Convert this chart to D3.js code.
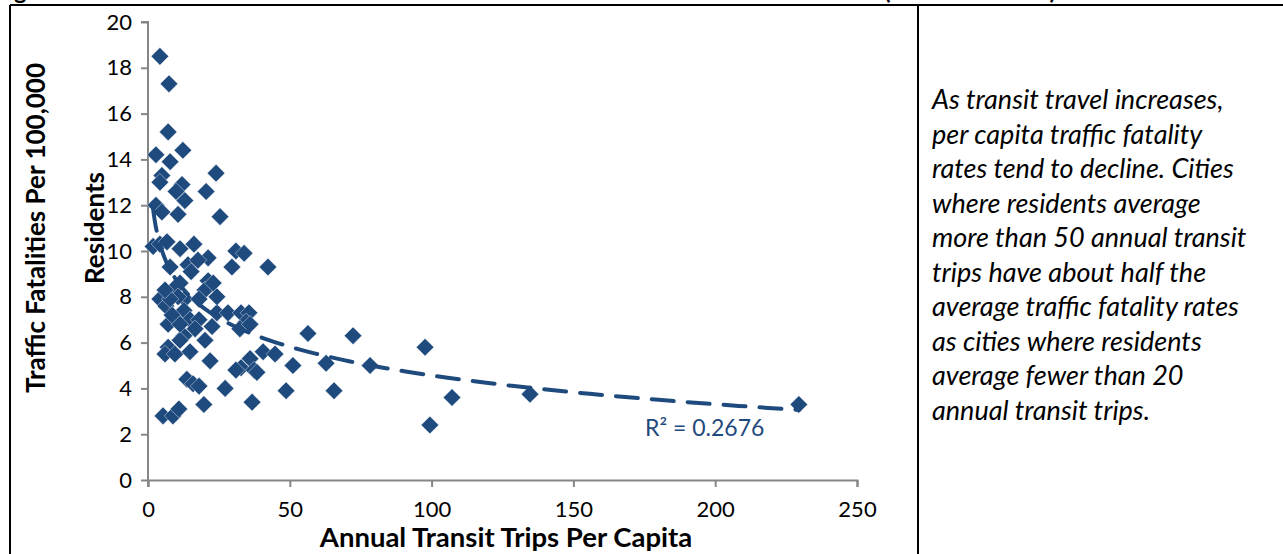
<!DOCTYPE html>
<html>
<head>
<meta charset="utf-8">
<script src="https://cdn.jsdelivr.net/npm/d3@7"></script>
<style>
  body { margin: 0; background: #fff; }
  svg { font-family: Lato, "Open Sans", sans-serif; }
</style>
</head>
<body>
<div id="chart"></div>
<script>
// Annual transit trips per capita (x) and traffic fatalities per 100,000 residents (y)
const trips = [4.2, 7.4, 7.1, 2.8, 12.3, 7.8, 4.9, 4.2, 24.0, 12.0, 9.9, 20.5, 2.8, 4.9, 13.0, 10.6, 25.4,
  1.8, 4.2, 6.7, 11.3, 16.2, 31.0, 33.9, 21.2, 7.8, 14.1, 17.6, 29.6, 42.3, 11.3, 21.2, 15.2, 9.5, 20.1,
  4.2, 6.3, 13.0, 18.0, 10.6, 12.7, 24.3, 28.2, 32.8, 35.6, 7.1, 8.5, 14.8, 22.6, 34.6, 32.4, 36.0,
  12.7, 11.3, 20.1, 56.4, 72.3, 7.1, 6.0, 9.5, 14.8, 21.9, 36.0, 40.6, 44.8, 32.8, 31.0, 37.4, 38.4,
  51.1, 62.8, 78.3, 97.7, 13.7, 15.9, 18.0, 27.2, 48.7, 65.6, 107.2, 134.7, 36.7, 19.7, 229.5,
  5.3, 8.8, 10.9, 99.4, 7.8, 6.0, 18.0, 16.6, 11.3, 23.0, 24.3];
const fatalities = [18.5, 17.3, 15.2, 14.2, 14.4, 13.9, 13.3, 13.0, 13.4, 12.9, 12.6, 12.6, 12.0, 11.7, 12.2, 11.6, 11.5,
  10.2, 10.3, 10.4, 10.1, 10.3, 10.0, 9.9, 9.7, 9.3, 9.4, 9.6, 9.3, 9.3, 8.6, 8.7, 9.1, 8.4, 8.3,
  7.9, 7.6, 7.9, 7.9, 8.0, 7.4, 7.3, 7.3, 7.3, 7.3, 6.8, 7.2, 7.0, 6.7, 6.9, 6.6, 6.8,
  6.3, 6.1, 6.1, 6.4, 6.3, 5.8, 5.5, 5.5, 5.6, 5.2, 5.3, 5.6, 5.5, 4.9, 4.8, 4.8, 4.7,
  5.0, 5.1, 5.0, 5.8, 4.4, 4.2, 4.1, 4.0, 3.9, 3.9, 3.6, 3.75, 3.4, 3.3, 3.3,
  2.8, 2.8, 3.1, 2.4, 7.9, 8.3, 7.0, 6.6, 6.8, 8.6, 8.0];

// Logarithmic trendline: y = intercept + slope * ln(x)
const trendIntercept = 12.9;
const trendSlope = -1.81;
const r2Label = 'R² = 0.2676';

const xTicks = [0, 50, 100, 150, 200, 250];
const yTicks = [0, 2, 4, 6, 8, 10, 12, 14, 16, 18, 20];

const noteLines = [
  'As transit travel increases,',
  'per capita traffic fatality',
  'rates tend to decline. Cities',
  'where residents average',
  'more than 50 annual transit',
  'trips have about half the',
  'average traffic fatality rates',
  'as cities where residents',
  'average fewer than 20',
  'annual transit trips.'
];

const W = 1283, H = 554;
const color = '#1f4a7e';
const axisColor = '#868686';

const svg = d3.select('#chart').append('svg')
    .attr('width', W)
    .attr('height', H);

// plot area in page pixels
const plot = { left: 148, right: 857, top: 22, bottom: 480 };

const x = d3.scaleLinear().domain([0, 250]).range([plot.left, plot.right]);
const y = d3.scaleLinear().domain([0, 20]).range([plot.bottom, plot.top]);

// frame lines of the surrounding table
svg.append('line').attr('x1', 10).attr('x2', W).attr('y1', 5).attr('y2', 5)
    .attr('stroke', '#000').attr('stroke-width', 2);
svg.append('line').attr('x1', 10).attr('x2', 10).attr('y1', 5).attr('y2', H)
    .attr('stroke', '#000').attr('stroke-width', 2);
svg.append('line').attr('x1', 918).attr('x2', 918).attr('y1', 5).attr('y2', H)
    .attr('stroke', '#000').attr('stroke-width', 2);

// figure title, mostly above the top edge of the picture (only descenders show)
svg.append('text')
    .attr('x', 14).attr('y', -1)
    .style('font-size', '24px').style('font-weight', 'bold')
    .text('gure 3: Traffic Fatalities Versus Transit Travel');
svg.append('text')
    .attr('x', 884).attr('y', -1)
    .attr('textLength', 172)
    .style('font-size', '24px').style('font-weight', 'bold')
    .text('(U.S. Cities)');

// axes
const xAxis = svg.append('g')
    .attr('transform', 'translate(0,' + plot.bottom + ')')
    .call(d3.axisBottom(x).tickValues(xTicks).tickSize(7).tickPadding(14));
const yAxis = svg.append('g')
    .attr('transform', 'translate(' + plot.left + ',0)')
    .call(d3.axisLeft(y).tickValues(yTicks).tickSize(7).tickPadding(9));

[xAxis, yAxis].forEach(g => {
    g.select('.domain').attr('stroke', axisColor).attr('stroke-width', 2);
    g.selectAll('.tick line').attr('stroke', axisColor).attr('stroke-width', 2);
    g.selectAll('.tick text').attr('fill', '#000').style('font-size', '22px')
        .style('font-family', 'Lato, "Open Sans", sans-serif');
});
yAxis.select('.domain').attr('d', 'M-7,' + plot.top + 'H0V' + (plot.bottom + 7));

// trendline
const xMin = d3.min(trips), xMax = d3.max(trips);
const trendX = d3.range(0, 101).map(i => xMin * Math.pow(xMax / xMin, i / 100));
const trendLine = d3.line()
    .x(d => x(d))
    .y(d => y(trendIntercept + trendSlope * Math.log(d)));

// points
const points = trips.map((t, i) => ({ t: t, f: fatalities[i] }));
svg.append('g').selectAll('path')
    .data(points)
    .join('path')
    .attr('d', d3.symbol().type(d3.symbolSquare).size(155))
    .attr('transform', d => 'translate(' + x(d.t) + ',' + y(d.f) + ') rotate(45)')
    .attr('fill', color)
    .attr('stroke', '#fff')
    .attr('stroke-width', 0.4);

svg.append('path')
    .datum(trendX)
    .attr('d', trendLine)
    .attr('fill', 'none')
    .attr('stroke', color)
    .attr('stroke-width', 4)
    .attr('stroke-linecap', 'round')
    .attr('stroke-dasharray', '22,14');

svg.append('text')
    .attr('x', 645).attr('y', 436)
    .attr('fill', color)
    .style('font-size', '23px')
    .text(r2Label);

// axis titles
svg.append('text')
    .attr('x', 506).attr('y', 547)
    .attr('text-anchor', 'middle')
    .style('font-size', '27.5px').style('font-weight', 'bold')
    .text('Annual Transit Trips Per Capita');

const yTitle = svg.append('text')
    .attr('transform', 'translate(0,228) rotate(-90)')
    .attr('text-anchor', 'middle')
    .style('font-size', '26px').style('font-weight', 'bold');
yTitle.append('tspan').attr('x', 0).attr('y', 45).text('Traffic Fatalities Per 100,000');
yTitle.append('tspan').attr('x', 0).attr('y', 104).text('Residents');

// side note
svg.append('g').selectAll('text')
    .data(noteLines)
    .join('text')
    .attr('x', 932)
    .attr('y', (d, i) => 109 + i * 34.5)
    .style('font-size', '27px')
    .style('font-style', 'italic')
    .text(d => d);
</script>
</body>
</html>
